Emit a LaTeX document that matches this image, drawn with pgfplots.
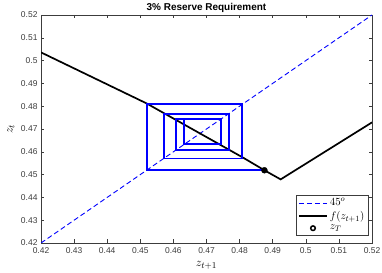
\documentclass[border=0pt]{standalone}
\usepackage{pgfplots}
\pgfplotsset{compat=1.18}
\usepackage{fontspec}
\setmainfont{Liberation Sans}
\definecolor{axgray}{RGB}{60,60,60}
\begin{document}
\begin{tikzpicture}
\path[use as bounding box] (-41bp,-30bp) rectangle (341bp,243bp);
\begin{axis}[
  scale only axis, width=331bp, height=228bp,
  at={(0,0)}, anchor=south west,
  xmin=0.42, xmax=0.52, ymin=0.42, ymax=0.52,
  xtick={0.42,0.43,0.44,0.45,0.46,0.47,0.48,0.49,0.5,0.51,0.52},
  ytick={0.42,0.43,0.44,0.45,0.46,0.47,0.48,0.49,0.5,0.51,0.52},
  xticklabels={0.42,0.43,0.44,0.45,0.46,0.47,0.48,0.49,0.5,0.51,0.52},
  yticklabels={0.42,0.43,0.44,0.45,0.46,0.47,0.48,0.49,0.5,0.51,0.52},
  tick align=inside, major tick length=3.5bp,
  axis line style={axgray, line width=0.5bp},
  every tick/.style={axgray, line width=0.5bp},
  tick label style={font=\fontsize{8.5}{10}\selectfont, text=axgray},
  xticklabel style={yshift=-1bp},
  every axis title shift=0pt,
  title={\textbf{3\% Reserve Requirement}},
  title style={font=\fontsize{10}{12}\selectfont, at={(axis description cs:0.5,1)}, anchor=base, yshift=4bp},
  xlabel={$z_{t+1}$},
  xlabel style={at={(axis description cs:0.5,0)}, anchor=center, yshift=-22bp, font=\fontsize{12.5}{14}\selectfont},
  ylabel={$z_t$},
  ylabel style={at={(axis description cs:-0.0906,0.5)}, anchor=center, font=\fontsize{12.5}{14}\selectfont},
  legend style={at={(rel axis cs:0.988,0.035)}, anchor=south east, font=\fontsize{11}{12}\selectfont,
    draw=axgray, line width=0.5bp, inner sep=1.5bp, row sep=0bp},
  legend cell align=left,
  legend image code/.code={\draw[#1] (0bp,0bp) -- (28bp,0bp);},
]
% 45 degree line
\addplot[blue, line width=0.9bp, dash pattern=on 5bp off 3bp] coordinates {(0.42,0.42) (0.52,0.52)};
\addlegendentry{$45^o$}
% f
\addplot[black, line width=1.7bp] coordinates {
  (0.42,0.5036) (0.4518,0.4813) (0.4811,0.4574) (0.4875,0.4519) (0.4924,0.4479) (0.52,0.4729)};
\addlegendentry{$f(z_{t+1})$}
% cobweb
\addplot[blue, line width=1.8bp, forget plot] coordinates {
  (0.4875,0.4520) (0.4520,0.4520) (0.4520,0.4808) (0.4808,0.4808) (0.4808,0.4571)
  (0.4571,0.4571) (0.4571,0.4767) (0.4767,0.4767) (0.4767,0.4608) (0.4608,0.4608)
  (0.4608,0.4743) (0.4743,0.4743) (0.4743,0.4633) (0.4633,0.4633) (0.4633,0.4743)};
% z_T
\addplot[only marks, mark=*, mark size=3bp, black, forget plot] coordinates {(0.4875,0.4519)};
\addlegendimage{legend image code/.code={\draw[black, line width=1.5bp] (14bp,0bp) circle (2.3bp);}}
\addlegendentry{$z_T$}
\end{axis}
\end{tikzpicture}
\end{document}
